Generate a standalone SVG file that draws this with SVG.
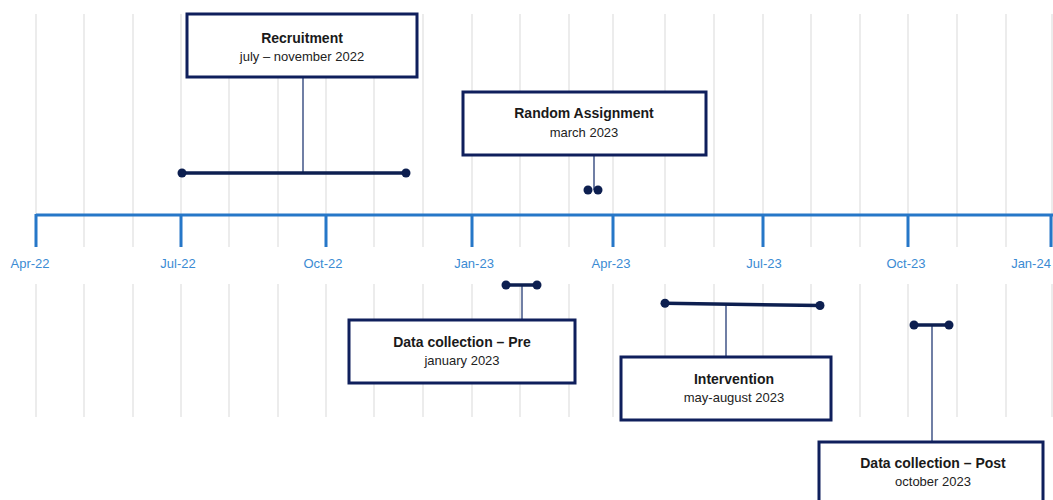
<svg xmlns="http://www.w3.org/2000/svg" width="1053" height="500" viewBox="0 0 1053 500">
<style>
.grid{stroke:#ececec;stroke-width:2;fill:none}
.axis{stroke:#2677c8;stroke-width:3;fill:none}
.tick{stroke:#2677c8;stroke-width:3;fill:none}
.lbl{font-family:"Liberation Sans",Arial,sans-serif;font-size:13px;fill:#3b8bd3;text-anchor:middle}
.box{fill:#ffffff;stroke:#0f1f5c;stroke-width:3}
.ttl{font-family:"Liberation Sans",Arial,sans-serif;font-size:14px;font-weight:bold;fill:#1a1a1a;text-anchor:middle}
.sub{font-family:"Liberation Sans",Arial,sans-serif;font-size:13px;fill:#222222;text-anchor:middle}
.bar{stroke:#0d1f50;stroke-width:3.5;fill:none}
.dot{fill:#0d1f50}
.conn{stroke:#4d5f8f;stroke-width:1.6;fill:none}
</style>
<rect width="1053" height="500" fill="#ffffff"/>
<g id="grid">
<path class="grid" d="M36 14V247M84 14V247M133 14V247M181 14V247M229 14V247M278 14V247M326 14V247M374 14V247M423 14V247M472 14V247M520 14V247M569 14V247M613 14V247M665 14V247M714 14V247M763 14V247M811 14V247M860 14V247M908 14V247M957 14V247M1006 14V247M1052 14V247"/>
<path class="grid" d="M36 284V417M84 284V417M133 284V417M181 284V417M229 284V417M278 284V417M326 284V417M374 284V417M423 284V417M472 284V417M520 284V417M569 284V417M613 284V417M665 284V417M714 284V417M763 284V417M811 284V417M860 284V417M908 284V417M957 284V417M1006 284V417M1052 284V417"/>
</g>
<g id="axis">
<path class="axis" d="M36 215H1053"/>
<path class="tick" d="M36 214V247M181 214V247M326 214V247M472 214V247M613 214V247M763 214V247M908 214V247M1051 214V247"/>
<text class="lbl" x="30" y="268">Apr-22</text>
<text class="lbl" x="178" y="268">Jul-22</text>
<text class="lbl" x="323" y="268">Oct-22</text>
<text class="lbl" x="474" y="268">Jan-23</text>
<text class="lbl" x="611" y="268">Apr-23</text>
<text class="lbl" x="764" y="268">Jul-23</text>
<text class="lbl" x="906" y="268">Oct-23</text>
<text class="lbl" x="1031" y="268">Jan-24</text>
</g>
<g id="connectors">
<path class="conn" d="M303 77V173"/>
<path class="bar" d="M182 173H406"/>
<circle class="dot" cx="182" cy="173" r="4.5"/>
<circle class="dot" cx="406" cy="173" r="4.5"/>
<path class="conn" d="M594 155V190"/>
<circle class="dot" cx="588" cy="190" r="4.5"/>
<circle class="dot" cx="598" cy="190" r="4.5"/>
<path class="conn" d="M522 285V320"/>
<path class="bar" d="M506 285H537"/>
<circle class="dot" cx="506" cy="285" r="4.5"/>
<circle class="dot" cx="537" cy="285" r="4.5"/>
<path class="conn" d="M726 304V357"/>
<path class="bar" d="M665 303.3L820 305.5"/>
<circle class="dot" cx="665" cy="303.3" r="4.5"/>
<circle class="dot" cx="820" cy="305.5" r="4.5"/>
<path class="conn" d="M932 325V442"/>
<path class="bar" d="M914 325H949"/>
<circle class="dot" cx="914" cy="325" r="4.5"/>
<circle class="dot" cx="949" cy="325" r="4.5"/>
</g>
<g id="recruitment">
<rect class="box" x="187" y="14" width="230" height="63"/>
<text class="ttl" x="302" y="43">Recruitment</text>
<text class="sub" x="302" y="61">july – november  2022</text>
</g>
<g id="random-assignment">
<rect class="box" x="463" y="92" width="243" height="63"/>
<text class="ttl" x="584" y="118">Random  Assignment</text>
<text class="sub" x="584" y="137">march 2023</text>
</g>
<g id="data-collection-pre">
<rect class="box" x="349" y="320" width="226" height="63"/>
<text class="ttl" x="462" y="347">Data collection  – Pre</text>
<text class="sub" x="462" y="365">january 2023</text>
</g>
<g id="intervention">
<rect class="box" x="621" y="357" width="210" height="63"/>
<text class="ttl" x="734" y="384">Intervention</text>
<text class="sub" x="734" y="402">may-august 2023</text>
</g>
<g id="data-collection-post">
<rect class="box" x="819" y="442" width="224" height="70"/>
<text class="ttl" x="933" y="468">Data collection  – Post</text>
<text class="sub" x="933" y="486">october 2023</text>
</g>
</svg>
